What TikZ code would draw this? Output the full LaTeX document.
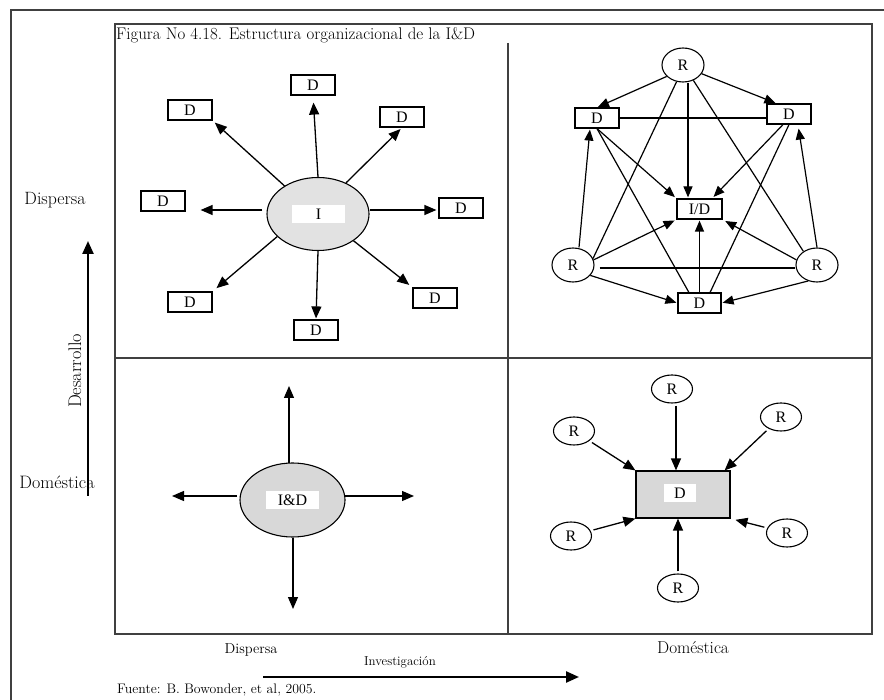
\documentclass[tikz,border=0pt]{standalone}
\usepackage{fontspec}
\newfontfamily\boxfont{Liberation Serif}
\usetikzlibrary{arrows.meta,shapes.geometric,calc}
\definecolor{frame}{HTML}{404040}
\definecolor{blob}{HTML}{E2E2E2}
\definecolor{blobdark}{HTML}{D8D8D8}
\newcommand{\fsz}[1]{\fontsize{#1}{#1}\selectfont}
\tikzset{
  lbl/.style={inner sep=0pt},
  dbox/.style={draw, rectangle, minimum width=44pt, minimum height=20pt, inner sep=0pt,
               line width=1.2pt, font=\boxfont\fsz{16}},
  rnode/.style={draw, ellipse, minimum width=42pt, minimum height=34pt, inner sep=0pt,
               line width=1.1pt, font=\boxfont\fsz{16}},
  rsmall/.style={rnode, minimum width=41pt, minimum height=28pt},
  tag/.style={fill=white, rectangle, inner sep=0pt, font=\boxfont\fsz{16}},
  arr/.style={-{Triangle[length=12pt,width=10pt]}, line width=1.3pt},
  sarr/.style={-{Triangle[length=11pt,width=9pt]}, line width=1.2pt},
  plain/.style={line width=1.2pt},
  axis/.style={-{Triangle[length=13pt,width=11pt]}, line width=2.4pt},
}
\begin{document}
\begin{tikzpicture}[x=1pt, y=-1pt]
\useasboundingbox (0,0) rectangle (884,700);

% outer page frame
\draw[frame, line width=1.5pt] (11,700) -- (11,10) -- (884,10);

% quadrant grid
\draw[frame, line width=1.5pt] (115,24) rectangle (872,634);
\draw[frame, line width=1.3pt] (115,358) -- (872,358);
\draw[frame, line width=1.3pt] (508,43) -- (508,634);

% title and source
\node[lbl, anchor=west, font=\fsz{16.9}] (title) at (116,35) {Figura No 4.18. Estructura organizacional de la I\&D};
\node[lbl, anchor=west, font=\fsz{13.8}] (src) at (117,690) {Fuente: B. Bowonder, et al, 2005.};

% axis labels
\node[lbl, font=\fsz{17.8}] (ydisp) at (55,200) {Dispersa};
\node[lbl, font=\fsz{18}] (ydom) at (57,482) {Doméstica};
\node[lbl, rotate=90, font=\fsz{18.2}] (ylab) at (75,371) {Desarrollo};
\node[lbl, font=\fsz{14.4}] (xdisp) at (251,650) {Dispersa};
\node[lbl, font=\fsz{12.9}] (xlab) at (400,662) {Investigación};
\node[lbl, font=\fsz{17.2}] (xdom) at (693,648) {Doméstica};

% axis arrows
\coordinate (yA) at (88,496);
\coordinate (yB) at (88,241);
\coordinate (xA) at (263,677);
\coordinate (xB) at (579,677);
\draw[axis] (yA) -- (yB);
\draw[axis] (xA) -- (xB);

% ---- top left: central research, dispersed development ----
\node[draw, ellipse, fill=blob, line width=1.1pt, minimum width=102pt, minimum height=73pt] (I) at (318,214) {};
\node[tag, minimum width=53pt, minimum height=18pt] (Itag) at (318.5,214) {I};
\node[dbox] (dT)  at (313,85) {D};
\node[dbox] (dUL) at (190,110) {D};
\node[dbox] (dUR) at (402,117) {D};
\node[dbox] (dLf) at (163,201) {D};
\node[dbox] (dRt) at (461,208) {D};
\node[dbox] (dLL) at (190,302) {D};
\node[dbox] (dLR) at (435,298) {D};
\node[dbox] (dB)  at (316,330) {D};

\draw[arr, shorten >=7pt] (I.north) -- (dT.south);
\draw[arr, shorten >=3pt] (I.140) -- (dUL.south east);
\draw[arr, shorten >=2pt] (I.48) -- (dUR.south);
\draw[arr, shorten <=4pt, shorten >=15pt] ([yshift=4pt]I.west) -- ([yshift=4pt]I.west -| dLf.east);
\draw[arr, shorten >=2pt] ([yshift=4pt]I.east) -- ([yshift=4pt]I.east -| dRt.west);
\draw[arr, shorten >=5pt] (I.209) -- (dLL.north east);
\draw[arr, shorten >=4pt] (I.323) -- (dLR.north west);
\draw[arr, shorten >=1pt] (I.south) -- (dB.north);

% ---- top right: dispersed network of research and development ----
\node[rnode] (rT) at (683,65) {R};
\node[rnode] (rL) at (573,265) {R};
\node[rnode] (rR) at (817,265) {R};
\node[dbox] (tL) at (597,118) {D};
\node[dbox] (tR) at (789,114) {D};
\node[dbox, minimum width=45pt] (id) at (699.5,209) {I/D};
\node[dbox, minimum width=43pt] (tB) at (699.5,303) {D};

\draw[sarr, shorten >=1pt] (rT.215) -- (tL.north);
\draw[sarr, shorten >=1pt] (rT.-25) -- (tR.140);
\draw[sarr, shorten >=1pt] ([xshift=5pt]rT.south) -- ([xshift=5pt]rT.south |- id.north);
\draw[plain] (rT.249) -- (rL.18);
\draw[plain] (rT.304) -- (rR.135);
\draw[plain] (tL.east) -- (tL.east -| tR.west);
\draw[sarr, shorten >=2pt] (tL.south) -- (id.north west);
\draw[plain] (tL.south) -- (tB.135);
\draw[sarr, shorten >=2pt] ([xshift=-6pt]tR.south) -- (id.40);
\draw[plain] (tR.south) -- (tB.45);
\draw[sarr, shorten >=1pt] ([xshift=6pt]rL.north) -- ([xshift=-7pt]tL.south);
\draw[sarr, shorten >=4pt] (rR.north) -- ([xshift=9pt]tR.south);
\draw[sarr, shorten >=2pt] (rL.14) -- (id.south west);
\draw[sarr, shorten >=3pt] (rR.166) -- (id.south east);
\draw[sarr, shorten >=1pt] (tB.north) -- (id.south);
\draw[plain] ([shift={(5pt,-3pt)}]rL.east) -- ([yshift=-3pt]rR.west);
\draw[sarr, shorten >=1pt] (rL.329) -- (tB.west);
\draw[sarr, shorten >=1pt] (rR.241) -- (tB.east);

% ---- bottom left: domestic research and development ----
\node[draw, ellipse, fill=blobdark, line width=1.1pt, minimum width=105pt, minimum height=74pt] (B) at (292.5,500) {};
\node[tag, minimum width=53pt, minimum height=18pt] (Btag) at (292.5,500) {I\&D};
\coordinate (bU0) at (289,463);  \coordinate (bU) at (289,386);
\coordinate (bL0) at (237,496);  \coordinate (bL) at (172,496);
\coordinate (bR0) at (345,496);  \coordinate (bR) at (414,496);
\coordinate (bD0) at (293,538);  \coordinate (bD) at (293,609);
\draw[arr] (bU0) -- (bU);
\draw[arr] (bL0) -- (bL);
\draw[arr] (bR0) -- (bR);
\draw[arr] (bD0) -- (bD);

% ---- bottom right: domestic development fed by research ----
\node[draw, rectangle, fill=blobdark, line width=1.2pt, minimum width=94pt, minimum height=47pt] (D) at (683,494.5) {};
\node[tag, minimum width=32pt, minimum height=18pt] (Dtag) at (680,493) {D};
\node[rsmall] (sT)  at (672,389) {R};
\node[rsmall] (sUL) at (574,431) {R};
\node[rsmall] (sUR) at (781,417) {R};
\node[rsmall] (sLL) at (571,536) {R};
\node[rsmall] (sLR) at (787,533) {R};
\node[rsmall] (sB)  at (678,588) {R};

\draw[arr, shorten <=2pt] ([xshift=4pt]sT.south) -- ([xshift=4pt]sT.south |- D.north);
\draw[arr, shorten <=3pt] (sUL) -- (D.north west);
\draw[arr, shorten <=3pt] (sUR) -- ([xshift=-6pt]D.north east);
\draw[arr, shorten <=3pt] (sLL) -- (D.south west);
\draw[arr, shorten <=3pt, shorten >=5pt] (sLR) -- (D.south east);
\draw[arr, shorten <=2pt] (sB.north) -- (sB.north |- D.south);
\end{tikzpicture}
\end{document}
